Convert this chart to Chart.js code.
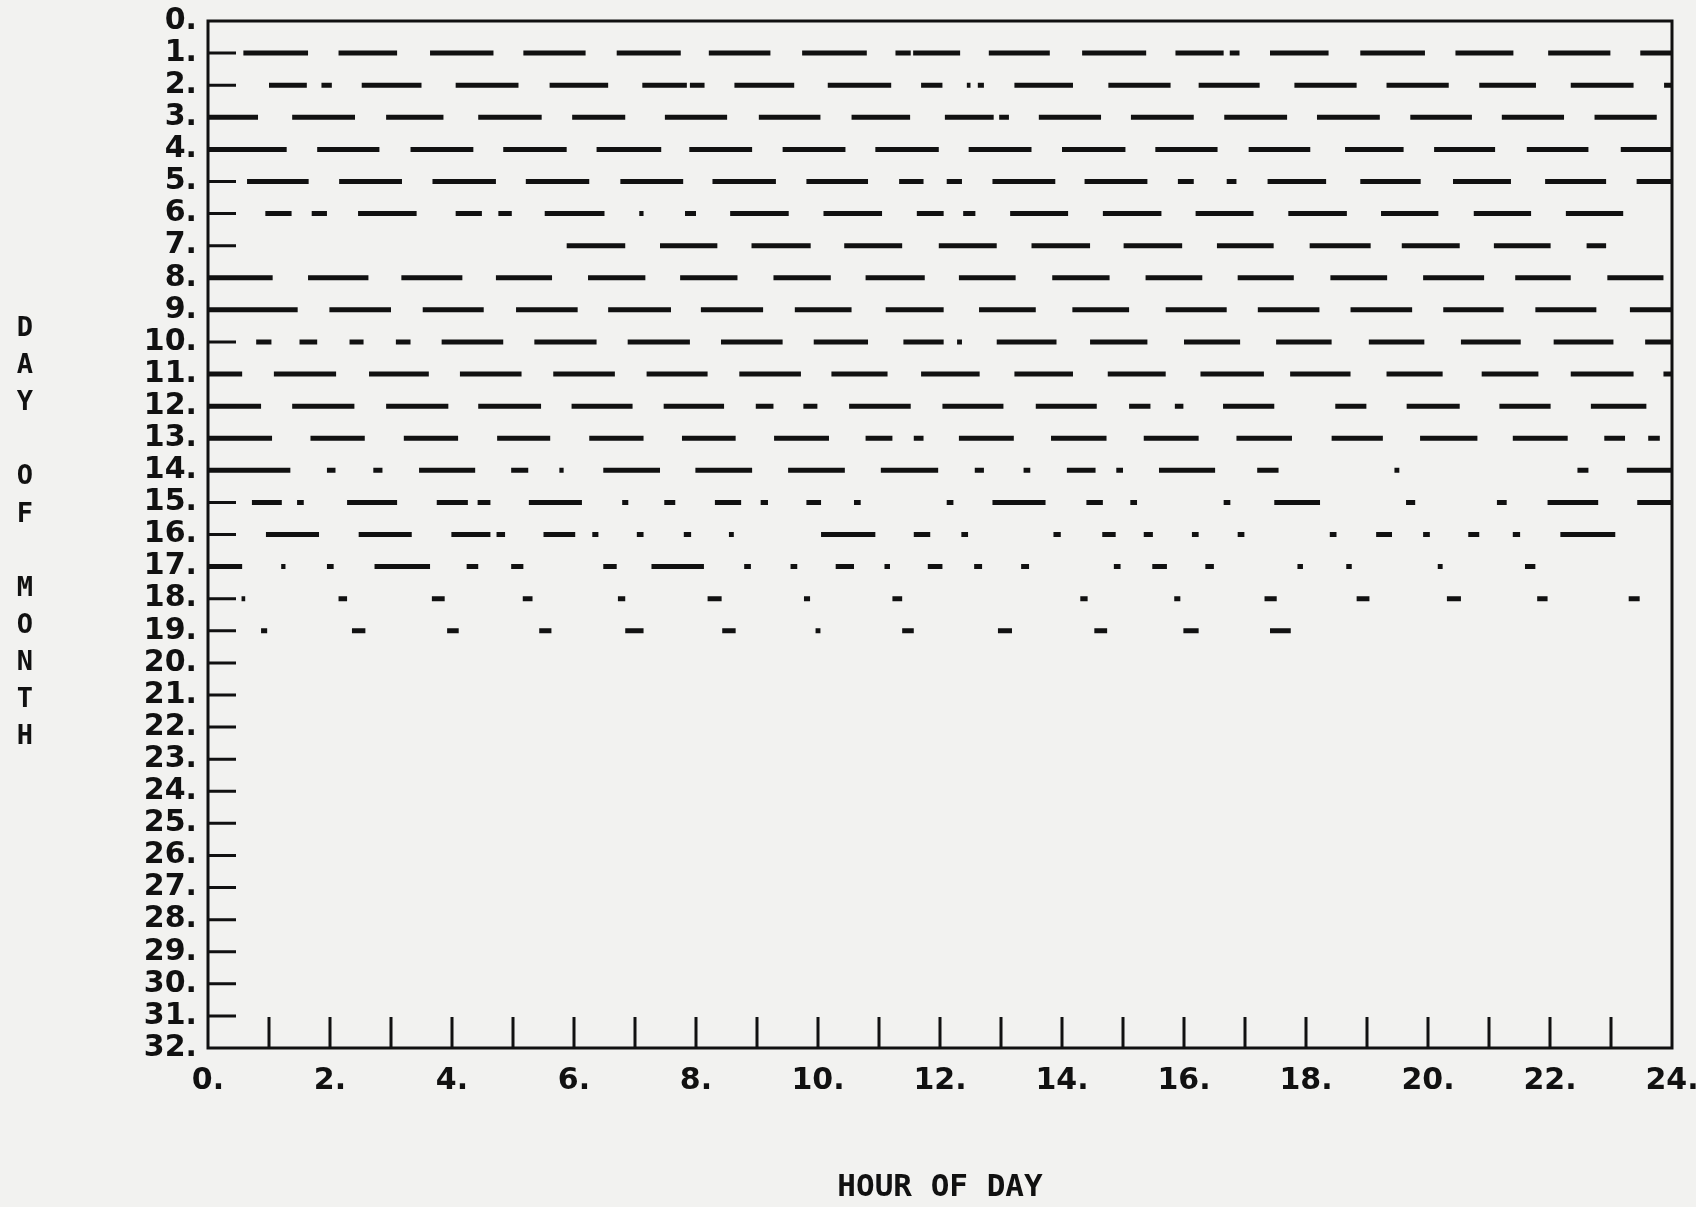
<!DOCTYPE html>
<html>
<head>
<meta charset="utf-8">
<title>Hour of day coverage by day of month</title>
<script src="https://cdn.jsdelivr.net/npm/chart.js@4.4.1/dist/chart.umd.min.js"></script>
<style>
  html, body { margin: 0; padding: 0; background: #f2f2f0; overflow: hidden; }
  #wrap { width: 1696px; height: 1207px; position: relative; }
  #chart { display: block; }
</style>
</head>
<body>
<div id="wrap"><canvas id="chart"></canvas></div>
<script>
// Recorded intervals [start hour, end hour] for each day of the month.
const day1  = [[0.58,1.64],[2.14,3.10],[3.64,4.68],[5.17,6.19],[6.70,7.75],[8.21,9.22],[9.74,10.80],[11.27,11.52],[11.56,12.33],[12.80,13.80],[14.33,15.38],[15.86,16.65],[16.75,16.91],[17.41,18.37],[18.89,19.95],[20.45,21.40],[21.97,22.99],[23.48,24]];
const day2  = [[1.00,1.62],[1.86,2.03],[2.52,3.50],[4.06,5.09],[5.60,6.56],[7.12,7.85],[7.90,8.14],[8.63,9.61],[10.16,11.20],[11.69,12.04],[12.44,12.50],[12.62,12.72],[13.22,14.18],[14.76,15.78],[16.24,17.24],[17.81,18.83],[19.32,20.34],[20.84,21.77],[22.34,23.37],[23.87,24]];
const day3  = [[0,0.82],[1.38,2.41],[2.92,3.86],[4.43,5.47],[5.97,6.84],[7.49,8.51],[9.03,10.04],[10.55,11.51],[12.08,12.88],[12.97,13.13],[13.62,14.64],[15.13,16.16],[16.66,17.69],[18.18,19.21],[19.71,20.72],[21.21,22.23],[22.73,23.75]];
const day4  = [[0,1.29],[1.79,2.81],[3.32,4.35],[4.84,5.88],[6.37,7.43],[7.89,8.92],[9.42,10.45],[10.94,11.98],[12.47,13.50],[14.00,15.04],[15.53,16.55],[17.06,18.07],[18.64,19.60],[20.10,21.10],[21.62,22.63],[23.16,24]];
const day5  = [[0.64,1.65],[2.15,3.18],[3.68,4.72],[5.21,6.25],[6.76,7.79],[8.27,9.31],[9.81,10.82],[11.33,11.73],[12.11,12.36],[12.86,13.89],[14.37,15.40],[15.90,16.16],[16.70,16.86],[17.37,18.33],[18.89,19.88],[20.41,21.36],[21.92,22.92],[23.42,24]];
const day6  = [[0.94,1.37],[1.70,1.95],[2.46,3.42],[4.06,4.49],[4.76,4.98],[5.52,6.50],[7.07,7.14],[7.82,8.00],[8.56,9.52],[10.09,11.05],[11.62,12.06],[12.38,12.58],[13.15,14.10],[14.67,15.63],[16.19,17.14],[17.71,18.67],[19.23,20.17],[20.75,21.69],[22.26,23.20]];
const day7  = [[5.88,6.84],[7.41,8.35],[8.91,9.88],[10.43,11.38],[11.98,12.93],[13.50,14.46],[15.01,15.97],[16.54,17.47],[18.06,19.06],[19.57,20.52],[21.08,22.01],[22.60,22.92]];
const day8  = [[0,1.06],[1.64,2.63],[3.17,4.17],[4.72,5.64],[6.23,7.17],[7.74,8.68],[9.27,10.21],[10.78,11.75],[12.31,13.24],[13.84,14.78],[15.37,16.30],[16.88,17.80],[18.40,19.33],[19.92,20.92],[21.43,22.34],[22.94,23.86]];
const day9  = [[0,1.47],[1.99,3.00],[3.52,4.52],[5.05,6.06],[6.56,7.59],[8.08,9.10],[9.62,10.55],[11.11,12.06],[12.64,13.57],[14.17,15.10],[15.70,16.70],[17.21,18.22],[18.73,19.74],[20.25,21.24],[21.76,22.76],[23.31,24]];
const day10 = [[0.79,1.04],[1.50,1.79],[2.32,2.55],[3.08,3.32],[3.83,4.84],[5.35,6.37],[6.88,7.90],[8.41,9.42],[9.93,10.82],[11.40,12.06],[12.28,12.36],[12.93,13.91],[14.46,15.40],[16.00,16.92],[17.51,18.42],[19.03,19.94],[20.54,21.52],[22.06,23.04],[23.56,24]];
const day11 = [[0,0.56],[1.08,2.10],[2.64,3.62],[4.13,5.14],[5.66,6.67],[7.19,8.19],[8.71,9.72],[10.22,11.14],[11.69,12.65],[13.22,14.18],[14.75,15.70],[16.27,17.31],[17.74,18.73],[19.32,20.24],[20.88,21.81],[22.34,23.37],[23.86,24]];
const day12 = [[0,0.87],[1.38,2.40],[2.92,3.94],[4.43,5.46],[5.96,6.96],[7.47,8.46],[8.98,9.27],[9.76,9.99],[10.51,11.52],[12.04,13.04],[13.57,14.57],[15.10,15.45],[15.85,15.99],[16.64,17.48],[18.48,18.99],[19.65,20.52],[21.17,22.01],[22.67,23.58]];
const day13 = [[0,1.05],[1.68,2.57],[3.21,4.10],[4.74,5.61],[6.25,7.14],[7.77,8.65],[9.28,10.18],[10.78,11.22],[11.57,11.73],[12.31,13.21],[13.82,14.73],[15.34,16.24],[16.86,17.77],[18.42,19.26],[19.87,20.81],[21.39,22.29],[22.89,23.23],[23.61,23.80]];
const day14 = [[0,1.35],[1.95,2.09],[2.71,2.86],[3.46,4.38],[4.97,5.25],[5.76,5.83],[6.48,7.41],[7.99,8.92],[9.51,10.44],[11.03,11.97],[12.57,12.72],[13.37,13.48],[14.08,14.55],[14.89,15.00],[15.59,16.51],[17.20,17.55],[19.45,19.53],[22.45,22.63],[23.26,24]];
const day15 = [[0.72,1.21],[1.46,1.57],[2.28,3.10],[3.75,4.26],[4.42,4.63],[5.26,6.13],[6.79,6.89],[7.48,7.66],[8.31,8.74],[9.06,9.18],[9.81,10.05],[10.59,10.70],[12.11,12.22],[12.86,13.73],[14.40,14.67],[15.12,15.23],[16.65,16.76],[17.48,18.23],[19.64,19.79],[21.13,21.29],[21.96,22.79],[23.43,24]];
const day16 = [[0.95,1.82],[2.47,3.34],[3.99,4.63],[4.73,4.87],[5.50,6.02],[6.30,6.40],[7.03,7.14],[7.80,7.92],[8.54,8.62],[10.05,10.94],[11.57,11.84],[12.35,12.46],[13.86,13.98],[14.66,14.88],[15.34,15.49],[16.13,16.24],[16.88,16.99],[18.39,18.50],[19.15,19.41],[19.92,20.03],[20.66,20.84],[21.39,21.51],[22.17,23.07]];
const day17 = [[0,0.56],[1.20,1.27],[1.95,2.06],[2.73,3.64],[4.24,4.43],[4.97,5.17],[6.48,6.70],[7.27,8.13],[8.79,8.90],[9.55,9.66],[10.29,10.59],[11.09,11.18],[11.80,12.04],[12.56,12.69],[13.33,13.46],[14.85,14.96],[15.48,15.72],[16.35,16.49],[17.86,17.95],[18.66,18.75],[20.16,20.24],[21.59,21.76]];
const day18 = [[0.55,0.61],[2.14,2.28],[3.67,3.88],[5.16,5.32],[6.72,6.84],[8.19,8.42],[9.77,9.87],[11.22,11.38],[14.30,14.42],[15.84,15.94],[17.32,17.52],[18.83,19.04],[20.31,20.54],[21.79,21.96],[23.29,23.47]];
const day19 = [[0.87,0.97],[2.36,2.58],[3.92,4.11],[5.43,5.63],[6.84,7.14],[8.43,8.65],[9.96,10.04],[11.38,11.57],[12.95,13.18],[14.53,14.74],[15.99,16.24],[17.41,17.75]];

const dayRows = [day1, day2, day3, day4, day5, day6, day7, day8, day9, day10,
                 day11, day12, day13, day14, day15, day16, day17, day18, day19];

// Axis ticks and labels
const hourLabels = [0, 2, 4, 6, 8, 10, 12, 14, 16, 18, 20, 22, 24];
const hourTicks  = [1,2,3,4,5,6,7,8,9,10,11,12,13,14,15,16,17,18,19,20,21,22,23];
const dayTicks   = [1,2,3,4,5,6,7,8,9,10,11,12,13,14,15,16,17,18,19,20,21,22,23,24,25,26,27,28,29,30,31];
const yTitle     = ['D','A','Y','','O','F','','M','O','N','T','H'];

const INK = '#111111';
const PAPER = '#f2f2f0';
const LABEL_FONT = { family: "'DejaVu Sans', 'Liberation Sans', sans-serif", size: 30, weight: 'bold' };
const MONO = "'DejaVu Sans Mono', 'Liberation Mono', monospace";

// Each interval becomes a two-point stroke; a null point breaks the line between them.
function strokesFor(day, segs) {
  const pts = [];
  segs.forEach(([s, e]) => {
    pts.push({ x: s, y: day }, { x: e, y: day }, { x: e, y: null });
  });
  return pts;
}

const datasets = dayRows.map((segs, i) => ({
  label: 'Day ' + (i + 1),
  data: strokesFor(i + 1, segs),
  borderColor: INK,
  borderWidth: 5,
  borderCapStyle: 'butt',
  pointRadius: 0,
  pointHoverRadius: 0,
  tension: 0,
  fill: false,
  spanGaps: false
}));

// Plot frame, inward tick marks and the stacked vertical axis title.
const framePlugin = {
  id: 'plotterFrame',
  beforeDraw(chart) {
    const { ctx, width, height } = chart;
    ctx.save();
    ctx.fillStyle = PAPER;
    ctx.fillRect(0, 0, width, height);
    ctx.restore();
  },
  afterDatasetsDraw(chart) {
    const { ctx, chartArea: a, scales: { x, y } } = chart;
    ctx.save();
    ctx.strokeStyle = INK;
    ctx.lineWidth = 3;
    ctx.strokeRect(a.left, a.top, a.right - a.left, a.bottom - a.top);
    ctx.beginPath();
    dayTicks.forEach(d => {
      const py = y.getPixelForValue(d);
      ctx.moveTo(a.left, py);
      ctx.lineTo(a.left + 28, py);
    });
    hourTicks.forEach(h => {
      const px = x.getPixelForValue(h);
      ctx.moveTo(px, a.bottom);
      ctx.lineTo(px, a.bottom - 31);
    });
    ctx.stroke();

    ctx.fillStyle = INK;
    ctx.font = 'bold 27px ' + MONO;
    ctx.textAlign = 'center';
    ctx.textBaseline = 'middle';
    yTitle.forEach((ch, i) => {
      if (ch) ctx.fillText(ch, 25, 329 + i * 37.1);
    });
    ctx.restore();
  }
};

new Chart(document.getElementById('chart'), {
  type: 'line',
  data: { datasets },
  plugins: [framePlugin],
  options: {
    responsive: true,
    maintainAspectRatio: false,
    animation: false,
    events: [],
    layout: { autoPadding: false, padding: { top: 21, right: 24, bottom: 0, left: 0 } },
    plugins: { legend: { display: false }, tooltip: { enabled: false } },
    scales: {
      x: {
        type: 'linear',
        min: 0,
        max: 24,
        afterFit(scale) {
          scale.height = 159;
          scale.paddingLeft = 0;
          scale.paddingRight = 0;
        },
        afterBuildTicks(scale) { scale.ticks = hourLabels.map(v => ({ value: v })); },
        grid: { display: false, drawTicks: false },
        border: { display: false },
        ticks: {
          autoSkip: false,
          maxRotation: 0,
          padding: 15,
          color: INK,
          font: LABEL_FONT,
          callback: v => v + '.'
        },
        title: {
          display: true,
          text: 'HOUR OF DAY',
          color: INK,
          font: { family: MONO, size: 31, weight: 'bold' },
          padding: { top: 0, bottom: 0 }
        }
      },
      y: {
        type: 'linear',
        reverse: true,
        min: 0,
        max: 32,
        afterFit(scale) {
          scale.width = 208;
          scale.paddingTop = 0;
          scale.paddingBottom = 0;
        },
        afterBuildTicks(scale) {
          const vals = [0].concat(dayTicks, [32]);
          scale.ticks = vals.map(v => ({ value: v }));
        },
        grid: { display: false, drawTicks: false },
        border: { display: false },
        ticks: {
          autoSkip: false,
          padding: 11,
          color: INK,
          font: LABEL_FONT,
          callback: v => v + '.'
        }
      }
    }
  }
});
</script>
</body>
</html>
